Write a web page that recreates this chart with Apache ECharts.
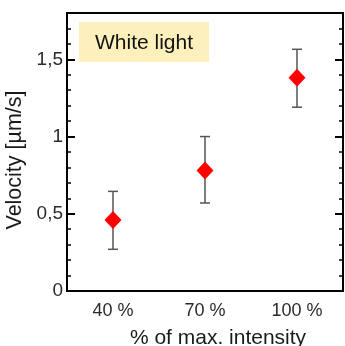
<!DOCTYPE html>
<html>
<head>
<meta charset="utf-8">
<script src="https://cdn.jsdelivr.net/npm/echarts@6/dist/echarts.min.js"></script>
<style>
  html, body { margin: 0; padding: 0; background: #fff; }
  #chart { width: 345px; height: 346px; }
</style>
</head>
<body>
<div id="chart"></div>
<script>
// data
var categories = ['40 %', '70 %', '100 %']
var velocity = [0.46, 0.78, 1.38]
var errLow = [0.27, 0.57, 1.19]
var errHigh = [0.645, 1.0, 1.565]

var font = 'Liberation Sans, Arial, sans-serif'
var chart = echarts.init(document.getElementById('chart'))

function yAxisCfg(pos, major) {
  return {
    type: 'value',
    position: pos,
    min: 0,
    max: 1.8,
    interval: major ? 0.5 : 0.1,
    axisLine: { show: major, lineStyle: { color: '#000', width: 2 } },
    axisTick: { show: true, inside: true, length: major ? 8 : 4, lineStyle: { color: '#000', width: major ? 2 : 1.5 } },
    axisLabel: {
      show: major && pos === 'left',
      margin: 4,
      fontSize: 19,
      fontFamily: font,
      color: '#2a2a2a',
      formatter: function(v) {
        if (Math.abs(v * 2 - Math.round(v * 2)) > 1e-6) return ''
        return String(v).replace('.', ',')
      }
    },
    splitLine: { show: false }
  }
}

var option = {
  animation: false,
  grid: {
    left: 67, right: 2, top: 13, bottom: 55,
    outerBoundsMode: 'none', containLabel: false,
    show: true, borderColor: '#000', borderWidth: 2
  },
  xAxis: [{
    type: 'category',
    data: categories,
    position: 'bottom',
    boundaryGap: true,
    axisLine: { lineStyle: { color: '#000', width: 2 } },
    axisTick: { inside: true, alignWithLabel: true, length: 8, lineStyle: { color: '#000', width: 2 } },
    axisLabel: { margin: 11, fontSize: 18, fontFamily: font, color: '#2a2a2a' },
    name: '% of max. intensity',
    nameLocation: 'middle',
    nameGap: 37,
    nameTextStyle: { fontSize: 21, fontFamily: font, color: '#1a1a1a', padding: [0, 0, 0, 26] }
  }, {
    type: 'category',
    data: categories,
    position: 'top',
    boundaryGap: true,
    axisLine: { lineStyle: { color: '#000', width: 2 } },
    axisTick: { inside: true, alignWithLabel: true, length: 8, lineStyle: { color: '#000', width: 2 } },
    axisLabel: { show: false }
  }],
  yAxis: [
    Object.assign(yAxisCfg('left', true), {
      name: 'Velocity [µm/s]',
      nameLocation: 'middle',
      nameGap: 40,
      nameTextStyle: { fontSize: 21.5, fontFamily: font, color: '#1a1a1a', padding: [0, 0, 0, -16] }
    }),
    yAxisCfg('left', false),
    yAxisCfg('right', true),
    yAxisCfg('right', false)
  ],
  graphic: [{
    type: 'group',
    left: 79,
    top: 22,
    children: [{
      type: 'rect',
      shape: { x: 0, y: 0, width: 130, height: 40 },
      style: { fill: '#fdf0bd' }
    }, {
      type: 'text',
      x: 65,
      y: 21,
      style: { text: 'White light', fontSize: 21, fontFamily: font, fill: '#111', align: 'center', verticalAlign: 'middle' }
    }]
  }],
  series: [{
    type: 'custom',
    xAxisIndex: 0,
    yAxisIndex: 0,
    data: categories.map(function(c, i) { return [i, errLow[i], errHigh[i]] }),
    renderItem: function(params, api) {
      var lo = api.coord([api.value(0), api.value(1)])
      var hi = api.coord([api.value(0), api.value(2)])
      var w = 5
      var st = { stroke: '#555', lineWidth: 1.5 }
      return {
        type: 'group',
        children: [
          { type: 'line', shape: { x1: lo[0], y1: lo[1], x2: hi[0], y2: hi[1] }, style: st },
          { type: 'line', shape: { x1: lo[0] - w, y1: lo[1], x2: lo[0] + w, y2: lo[1] }, style: st },
          { type: 'line', shape: { x1: hi[0] - w, y1: hi[1], x2: hi[0] + w, y2: hi[1] }, style: st }
        ]
      }
    },
    z: 2
  }, {
    type: 'scatter',
    xAxisIndex: 0,
    yAxisIndex: 0,
    data: velocity,
    symbol: 'diamond',
    symbolSize: [17, 18],
    itemStyle: { color: '#ff0000', opacity: 1 },
    z: 3
  }]
}
chart.setOption(option)
</script>
</body>
</html>
